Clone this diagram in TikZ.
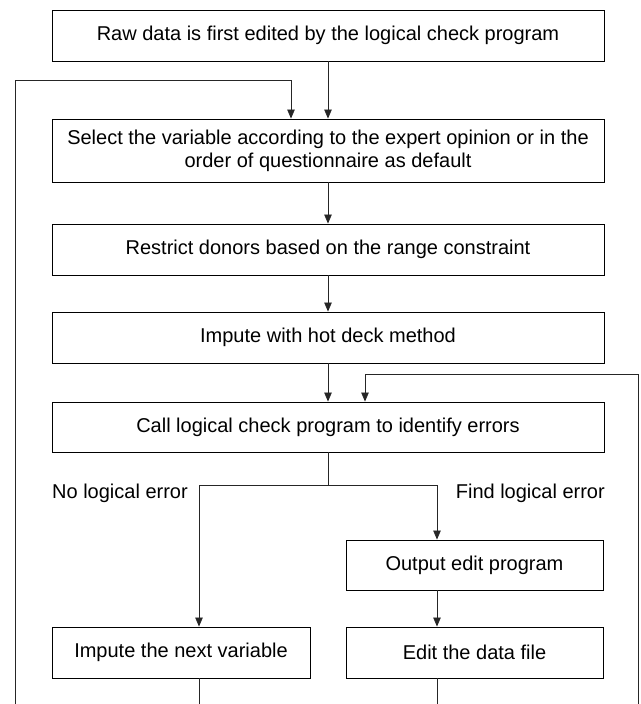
\documentclass[tikz,border=0pt]{standalone}
\usepackage{fontspec}
\setmainfont{Liberation Sans}
\usetikzlibrary{arrows.meta}
\begin{document}
\begin{tikzpicture}[x=1pt,y=-1pt,
  box/.style={draw=black,line width=0.9pt,rectangle,inner sep=0pt,align=center,
    font=\fontsize{20}{23}\selectfont,fill=white},
  wide/.style={box,minimum width=552pt},
  half/.style={box,minimum width=257pt,minimum height=50pt},
  conn/.style={line width=0.8pt,draw=black!85},
  arr/.style={conn,-{Triangle[length=9pt,width=7.5pt]}},
  lbl/.style={font=\fontsize{20}{23}\selectfont,inner sep=0pt}]
\useasboundingbox (0,0) rectangle (640,704);
\node[wide,minimum height=51pt] (b1) at (328,35.5) {Raw data is first edited by the logical check program};
\node[wide,minimum height=63pt] (b2) at (328,150.5) {Select the variable according to the expert opinion or in the\\order of questionnaire as default};
\node[wide,minimum height=51pt] (b3) at (328,249.5) {Restrict donors based on the range constraint};
\node[wide,minimum height=51pt] (b4) at (328,337.5) {Impute with hot deck method};
\node[wide,minimum height=50pt] (b5) at (328,427) {Call logical check program to identify errors};
\node[half] (b6) at (474.5,565) {Output edit program};
\node[box,minimum width=258pt,minimum height=51pt] (b7) at (181,652.5) {Impute the next variable};
\node[box,minimum width=257pt,minimum height=51pt] (b8) at (474.5,652.5) {Edit the data file};
\node[lbl,anchor=west] (l1) at (52,493) {No logical error};
\node[lbl,anchor=east] (l2) at (605,493) {Find logical error};
% coordinates
\coordinate (lb) at (15,704);
\coordinate (lt) at (15,80);
\coordinate (la) at (291,80);
\coordinate (rb) at (638.5,704);
\coordinate (rt) at (638.5,374);
\coordinate (ra) at (365,374);
\coordinate (br) at (328,485);
\coordinate (bl) at (199,485);
\coordinate (bR) at (437,485);
\coordinate (e7) at (199,704);
\coordinate (e8) at (437,704);
% connectors
\draw[arr] (b1.south) -- (b2.north);
\draw[arr] (b2.south) -- (b3.north);
\draw[arr] (b3.south) -- (b4.north);
\draw[arr] (b4.south) -- (b5.north);
\draw[arr] (lb) -- (lt) -- (la) -- (la |- b2.north);
\draw[arr] (rb) -- (rt) -- (ra) -- (ra |- b5.north);
\draw[conn] (b5.south) -- (br);
\draw[arr] (br) -- (bR) -- (bR |- b6.north);
\draw[arr] (br) -- (bl) -- (bl |- b7.north);
\draw[arr] (b6.south -| bR) -- (bR |- b8.north);
\draw[conn] (b7.south -| bl) -- (e7);
\draw[conn] (b8.south -| bR) -- (e8);
\end{tikzpicture}
\end{document}
